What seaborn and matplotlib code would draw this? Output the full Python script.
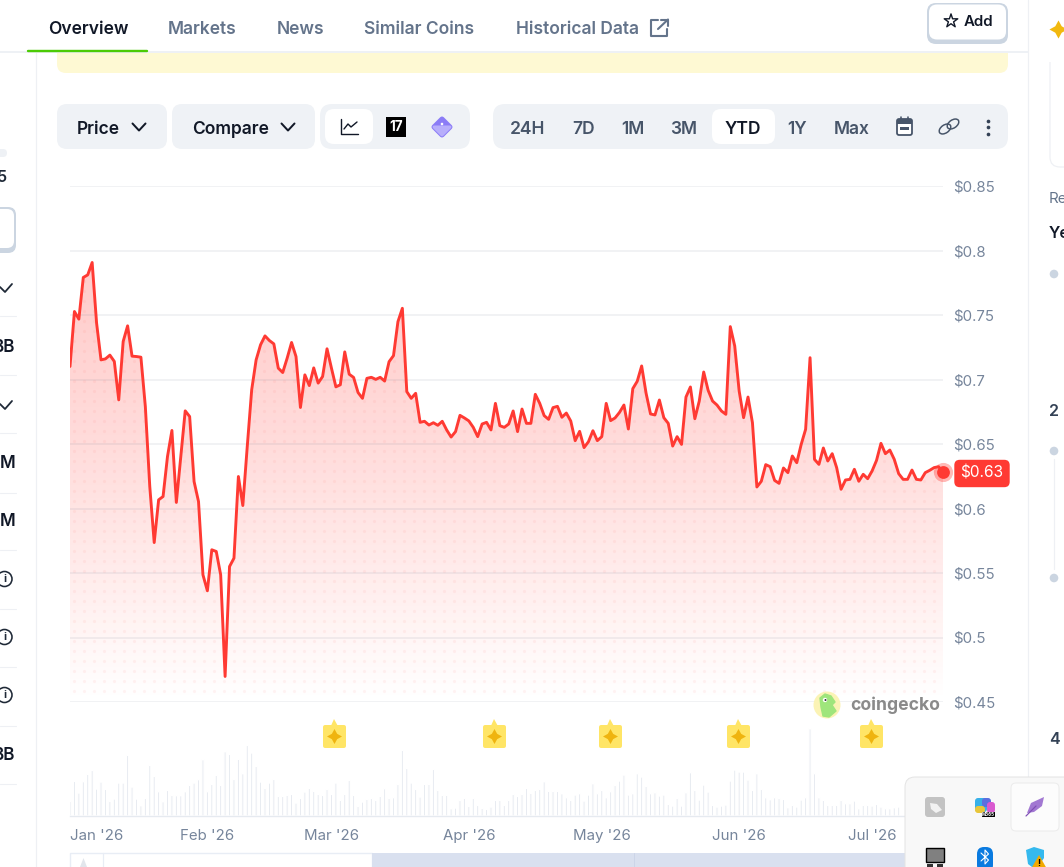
import matplotlib
matplotlib.use("Agg")
import matplotlib.pyplot as plt
import seaborn as sns
import numpy as np
from matplotlib.markers import MarkerStyle
from matplotlib.patches import FancyBboxPatch, Circle, Polygon, Ellipse

# price per day since 1 Jan 2026
price = [
    .7101, .7527, .7468, .7791, .7811, .7907, .7437, .7152, .7160, .7189, .7140, .6842, .7295, .7416, .7181, .7178,
    .7173, .6791, .6171, .5736, .6067, .6093, .6403, .6605, .6047, .6403, .6757, .6713, .6209, .6054, .5486, .5362,
    .5680, .5667, .5486, .4698, .5550, .5615, .6248, .6023, .6481, .6920, .7152, .7269, .7338, .7302, .7276, .7088,
    .7054, .7165, .7287, .7178, .6783, .7036, .6953, .7090, .6972, .7023, .7238, .7088, .6943, .6959, .7214, .7041,
    .7016, .6899, .6854, .7009, .7017, .7001, .7017, .6988, .7138, .7185, .7448, .7552, .6906, .6854, .6893, .6668,
    .6676, .6647, .6665, .6645, .6676, .6609, .6554, .6596, .6722, .6702, .6679, .6629, .6557, .6655, .6668, .6609,
    .6815, .6642, .6629, .6655, .6756, .6596, .6771, .6660, .6660, .6885, .6815, .6720, .6691, .6782, .6792, .6707,
    .6740, .6678, .6526, .6598, .6472, .6518, .6603, .6526, .6557, .6815, .6681, .6702, .6745, .6802, .6616, .6929,
    .6986, .7105, .6893, .6733, .6725, .6841, .6704, .6660, .6484, .6557, .6497, .6864, .6942, .6696, .6833, .7058,
    .6916, .6833, .6802, .6756, .6730, .7410, .7260, .6911, .6704, .6864, .6665, .6167, .6211, .6340, .6324, .6218,
    .6195, .6314, .6278, .6407, .6355, .6497, .6614, .7169, .6381, .6342, .6469, .6368, .6425, .6317, .6149, .6221,
    .6226, .6304, .6211, .6265, .6231, .6291, .6373, .6505, .6425, .6453, .6381, .6270, .6226, .6226, .6298, .6226,
    .6221, .6278, .6296, .6317, .6324, .6283,
]
# relative volume, the last days sit behind the tray popup
volume = [
    44, 104, 69, 103, 125, 137, 81, 102, 80, 44, 51, 99, 99, 182, 87, 51, 31, 53, 152, 119,
    73, 43, 77, 62, 61, 61, 73, 92, 99, 109, 169, 73, 95, 122, 92, 193, 185, 110, 170, 127,
    212, 189, 149, 102, 83, 99, 110, 59, 59, 62, 65, 39, 53, 72, 83, 74, 65, 62, 80, 65,
    99, 47, 65, 107, 62, 29, 42, 50, 53, 47, 59, 82, 53, 55, 95, 197, 143, 99, 80, 57,
    95, 95, 140, 77, 62, 62, 22, 24, 47, 53, 29, 53, 32, 23, 20, 27, 47, 47, 32, 47,
    65, 59, 65, 83, 68, 77, 80, 103, 74, 74, 74, 67, 55, 47, 63, 67, 45, 63, 97, 67,
    77, 55, 73, 92, 105, 123, 63, 67, 127, 117, 89, 67, 70, 60, 63, 35, 30, 53, 30, 70,
    130, 77, 48, 93, 72, 32, 27, 30, 33, 105, 138, 132, 132, 108, 77, 127, 80, 55, 49, 55,
    53, 50, 25, 32, 27, 48, 55, 262, 127, 55, 47, 32, 32, 32, 47, 37, 37, 45, 22, 32,
    32, 30, 35, 27, 22, 22, 25, 27,
]
month_days = [0, 31, 59, 90, 120, 151, 181]
month_labels = ["Jan '26", "Feb '26", "Mar '26", "Apr '26", "May '26", "Jun '26", "Jul '26"]
price_ticks = [.45, .5, .55, .6, .65, .7, .75, .8, .85]
price_labels = ['$0.45', '$0.5', '$0.55', '$0.6', '$0.65', '$0.7', '$0.75', '$0.8', '$0.85']
event_days = [59.5, 95.7, 121.8, 150.8, 180.8]
tabs = ['Overview', 'Markets', 'News', 'Similar Coins', 'Historical Data']
ranges = ['24H', '7D', '1M', '3M', 'YTD', '1Y', 'Max']

RED = '#ff3a33'
GRAY = '#76859b'
DARK = '#111827'
TAB_GRAY = '#64748b'
PANEL = '#eff2f6'
LINE = '#eef0f4'

sns.set_theme(style="white")
plt.rcParams['font.family'] = ['Inter', 'DejaVu Sans']

W, H = 1064, 867
fig = plt.figure(figsize=(W / 100, H / 100), dpi=100, facecolor='white')


def px_rect(x0, y0, x1, y1):
    return [x0 / W, (H - y1) / H, (x1 - x0) / W, (y1 - y0) / H]


def pt(px):
    return px * 0.72


# --- price chart ---
days = np.arange(len(price))
ax = fig.add_axes(px_rect(70, 186, 943, 702))
ax.set_facecolor('none')

poly = ax.fill_between(days, price, 0.45, facecolor='none', edgecolor='none')
clip = poly.get_paths()[0]

shade = np.zeros((256, 1, 4))
shade[..., 0], shade[..., 1], shade[..., 2] = 1.0, 0.16, 0.14
shade[:, 0, 3] = np.interp(np.linspace(0, 1, 256), [0, .2, .5, .75, 1], [.25, .23, .165, .09, 0])
im = ax.imshow(shade, extent=(0, 197, .45, .85), aspect='auto', zorder=1, interpolation='bilinear')
im.set_clip_path(clip, transform=ax.transData)

# faint dot texture of the area fill
dot_x, dot_y = np.meshgrid(np.arange(74, 943, 10), np.arange(691, 250, -10))
dots = ax.scatter((dot_x.ravel() - 70) / 873 * 197, .45 + (702 - dot_y.ravel()) / 1290, s=pt(3.2) ** 2,
                  color=RED, alpha=.06, linewidths=0, zorder=2)
dots.set_clip_path(clip, transform=ax.transData)

sns.lineplot(x=days, y=price, ax=ax, color=RED, linewidth=pt(2.9), errorbar=None, zorder=4)

ax.set_xlim(0, 197)
ax.set_ylim(.45, .85)
ax.set_xticks([])
ax.set_xlabel('')
ax.set_ylabel('')
ax.yaxis.tick_right()
ax.set_yticks(price_ticks, price_labels)
ax.tick_params(axis='y', length=0, pad=pt(10), labelsize=pt(15), labelcolor=GRAY)
ax.grid(axis='y', color='#64748b', alpha=.11, linewidth=pt(1.6), zorder=3)
ax.set_axisbelow(False)
sns.despine(ax=ax, left=True, bottom=True, right=True, top=True)

ax.scatter(days[-1:], price[-1:], s=190, color=RED, alpha=.35, linewidths=0, clip_on=False, zorder=5)
ax.scatter(days[-1:], price[-1:], s=85, color=RED, linewidths=0, clip_on=False, zorder=6)
ax.annotate('$0.63', (days[-1], price[-1]), xytext=(pt(39), pt(-1.5)), textcoords='offset points', ha='center',
            va='center', color='white', fontsize=pt(15.5), annotation_clip=False,
            bbox=dict(boxstyle='round,pad=0.4,rounding_size=0.35', fc=RED, ec='none'))

# --- volume strip ---
ax_vol = fig.add_axes(px_rect(70, 716, 943, 816))
ax_vol.set_facecolor('none')
sns.barplot(x=np.arange(len(volume)), y=volume, ax=ax_vol, native_scale=True, color='#e4e8ef', width=.5,
            saturation=1)
for bar in ax_vol.patches:
    bar.set_snap(False)
ax_vol.set_xlim(0, 197)
ax_vol.set_ylim(0, 300)
ax_vol.set_yticks([])
ax_vol.set_xlabel('')
ax_vol.set_ylabel('')
ax_vol.set_xticks(month_days, month_labels)
ax_vol.tick_params(axis='x', length=pt(11), width=pt(1.2), color='#e6eaf0', pad=pt(2), labelsize=pt(15),
                   labelcolor=GRAY)
ax_vol.get_xticklabels()[0].set_ha('left')
sns.despine(ax=ax_vol, left=True, right=True, top=True)
ax_vol.spines['bottom'].set_color('#e6eaf0')
ax_vol.spines['bottom'].set_linewidth(pt(1.4))

# event flags over the volume bars
flag_y = [240] * len(event_days)
ax_vol.plot(event_days, flag_y, ls='', marker=MarkerStyle('s', joinstyle='round'), ms=pt(19), mew=pt(4),
            color='#ffe566', clip_on=False, zorder=6)
ax_vol.plot(event_days, [278] * len(event_days), ls='', marker='^', ms=pt(9), mew=0, color='#ffe566',
            clip_on=False, zorder=5)
ax_vol.plot(event_days, flag_y, ls='', marker=(4, 1, 0), ms=pt(15), mew=0, color='#efb40f', clip_on=False,
            zorder=7)

# --- page around the chart, drawn in pixel coordinates ---
ui = fig.add_axes([0, 0, 1, 1], zorder=10)
ui.set_xlim(0, W)
ui.set_ylim(H, 0)
ui.axis('off')
ui.patch.set_alpha(0)


def box(x0, y0, x1, y1, r, fc, ec='none', lw=0, z=1):
    p = FancyBboxPatch((x0, y0), x1 - x0, y1 - y0, boxstyle=f'round,pad=0,rounding_size={r}', fc=fc, ec=ec,
                       lw=pt(lw), zorder=z)
    ui.add_patch(p)
    return p


def txt(x, y, s, size=16, color=DARK, ha='center', weight='normal', z=5):
    ui.text(x, y + 1, s, fontsize=pt(size), color=color, ha=ha, va='center', fontweight=weight, zorder=z)


def stroke(xs, ys, color=DARK, lw=2, z=5):
    ui.plot(xs, ys, color=color, lw=pt(lw), solid_capstyle='round', solid_joinstyle='round', zorder=z)


def chevron(x, y, color=DARK):
    stroke([x - 6.5, x, x + 6.5], [y - 3.5, y + 3.5, y - 3.5], color)


# frame lines
stroke([36, 36], [53, H], LINE, 1.2, 1)
stroke([1028, 1028], [0, H], LINE, 1.2, 1)

# yellow banner
box(57, 40, 1008, 73, 9, '#fef9d3', z=0)
ui.add_patch(plt.Rectangle((57, 30), 951, 22, fc='white', ec='none', zorder=0.5))
stroke([0, 1028], [52, 52], '#eef1f5', 2, 1)

# tabs
tab_x = [48, 168, 277, 364, 516]
for i, (x, s) in enumerate(zip(tab_x, tabs)):
    txt(x, 28.5, s, 17.4, DARK if i == 0 else TAB_GRAY, 'left', 'semibold')
stroke([28, 147], [50.5, 50.5], '#4ccb05', 2.4, 3)
stroke([658, 651, 651, 667, 667], [20, 20, 36, 36, 29], TAB_GRAY, 2.1)
stroke([658, 668], [29, 19.5], TAB_GRAY, 2.1)
stroke([661, 668, 668], [19.5, 19.5, 26], TAB_GRAY, 2.1)

# add button
box(927, 3, 1008, 44, 9, '#cbd5e1')
box(929, 4.5, 1006, 39.5, 8, 'white')
ui.scatter([951], [21], s=105, marker='*', facecolor='none', edgecolor=DARK, linewidths=1, zorder=5)
txt(964, 21, 'Add', 15, DARK, 'left', 'semibold')

# toolbar
box(57, 104, 167, 149, 10, PANEL)
txt(77, 128, 'Price', 17.4, DARK, 'left', 'semibold')
chevron(139, 127)
box(172, 104, 315, 149, 10, PANEL)
txt(192, 128, 'Compare', 17.4, DARK, 'left', 'semibold')
chevron(288, 127)
box(320, 104, 470, 149, 12, PANEL)
box(325, 109, 373, 144, 9, 'white')
stroke([341, 341, 358], [119, 134, 134], DARK, 1.4)
stroke([344, 348, 351, 357], [129, 124, 127, 122], DARK, 1.4)
ui.add_patch(plt.Rectangle((386, 117), 20, 20, fc='black', ec='none', zorder=4))
txt(396, 126, '17', 13.5, 'white', weight='bold')
ui.add_patch(Polygon([(442, 119), (450, 127), (442, 135), (434, 127)], closed=True, fc='#8b7cf6', ec='#8b7cf6',
                     lw=pt(5), joinstyle='round', zorder=4))
ui.add_patch(Polygon([(442, 127), (450, 127), (442, 135), (434, 127)], closed=True, fc='#b7aefb', ec='#b7aefb',
                     lw=pt(3), joinstyle='round', zorder=4))
ui.add_patch(Circle((442, 124), 1.3, fc='white', ec='none', zorder=5))

box(493, 104, 1008, 149, 12, PANEL)
box(712, 109, 775, 144, 9, 'white')
range_x = [528, 584, 633, 684, 743, 797, 852]
for s, x in zip(ranges, range_x):
    txt(x, 128, s, 17.4, DARK if s == 'YTD' else '#475569', weight='semibold')
box(897, 119, 912, 135, 2, 'white', '#475569', 1.8, 4)
ui.add_patch(plt.Rectangle((897, 119), 15, 5, fc='#475569', ec='none', zorder=5))
ui.add_patch(plt.Rectangle((900, 127), 9, 3, fc='#475569', ec='none', zorder=5))
stroke([901, 901], [116.5, 120], '#475569', 1.6)
stroke([908, 908], [116.5, 120], '#475569', 1.6)
for cx, cy in [(945, 129), (953, 124)]:
    ui.add_patch(Ellipse((cx, cy), 13, 8, angle=-35, fc='none', ec='#475569', lw=pt(1.5), zorder=5))
ui.scatter([988, 988, 988], [120.5, 127, 133.5], s=7, color='#334155', linewidths=0, zorder=5)

# left sidebar, cut by the screenshot
box(-20, 149, 7, 157, 4, '#eef1f5')
txt(7, 176, '5', 16, '#1f2937', 'right', 'semibold')
box(-30, 207, 16, 253, 8, '#cbd5e1')
box(-30, 209, 14, 248, 7, 'white')
for y in [316, 375, 433, 492.5, 550, 609, 667, 726, 784]:
    stroke([0, 16], [y, y], LINE, 1.1, 1)
for y in [288, 405]:
    stroke([0, 5, 12], [y - 1, y + 4, y - 4], '#1f2937', 1.8)
for y, s in [(346, 'BB'), (463, 'M'), (521, 'M'), (755, 'BB')]:
    txt(15, y, s, 17, DARK, 'right', 'semibold')
for y in [579, 637, 695]:
    ui.add_patch(Circle((4.5, y), 7.5, fc='white', ec='#1f2937', lw=pt(1.6), zorder=5))
    txt(4.5, y - .5, 'i', 11, '#1f2937', weight='bold', z=6)

# right sidebar, cut by the screenshot
box(1050, 40, 1100, 167, 10, 'white', '#eef0f4', 1.2, 1)
ui.add_patch(plt.Rectangle((1045, 30), 25, 32, fc='white', ec='none', zorder=2))
ui.scatter([1058], [29], s=170, marker=(4, 1, 0), color='#f2b90f', linewidths=0, zorder=5)
txt(1049, 198, 'Re', 15, TAB_GRAY, 'left')
txt(1049, 233, 'Ye', 16, DARK, 'left', 'semibold')
for y in [274, 451, 578]:
    ui.add_patch(Circle((1054, y), 4.3, fc='#cbd5e1', ec='none', zorder=5))
stroke([1054, 1054], [459, 569], LINE, 1.2, 1)
txt(1049, 410, '2', 16, '#334155', 'left', 'semibold')
txt(1049, 739, '4', 16, '#334155', 'left', 'semibold')

# navigator under the chart
ui.add_patch(plt.Rectangle((70, 853), 302, 20, fc='white', ec='#e8edf5', lw=pt(1.4), zorder=1))
ui.add_patch(plt.Rectangle((372, 853), 540, 20, fc='#d9e0ef', ec='none', zorder=1))
stroke([103, 103], [853, H], '#e8edf5', 1.2, 2)
stroke([633.5, 633.5], [853, H], '#ccd5e8', 1, 2)
ui.add_patch(Polygon([(80, H), (83.5, 858), (87, H)], closed=True, fc='#e2e6ec', ec='none', zorder=2))

# coingecko watermark
ui.add_patch(Circle((827, 705), 13.5, fc='#fbf3b5', ec='none', zorder=5))
ui.add_patch(Polygon([(820, 698), (825, 694), (831, 696), (835, 702), (832, 705), (836, 711), (829, 717), (823, 716),
                      (821, 707)], closed=True, fc='#9fe57c', ec='#9fe57c', lw=1, joinstyle='round', zorder=6))
ui.add_patch(Circle((825, 700), 2.2, fc='white', ec='none', zorder=7))
ui.add_patch(Circle((825.5, 700), 1, fc='#333333', ec='none', zorder=8))
txt(850, 704, 'coingecko', 17.5, '#8a8a8a', 'left', 'bold')

# windows tray popup
box(905, 777, 1100, 900, 10, '#f8f8f8', '#e4e4e4', 1, 20)
box(1011, 783, 1059, 831, 5, '#fcfcfc', '#ececec', 1, 21)
box(925, 797, 945, 817, 3, '#c3c3c3', z=22)
ui.add_patch(Polygon([(930, 803), (937, 804), (942, 810), (936, 813), (931, 809)], closed=True, fc='#f2f2f2',
                     ec='none', zorder=23))
for (x0, y0, x1, y1, c) in [(975, 798, 987, 812, '#37b0e8'), (982, 798, 991, 807, '#5b6fe0'),
                            (987, 802, 995, 813, '#d95ad0'), (975, 806, 985, 813, '#e8c63a')]:
    box(x0, y0, x1, y1, 3, c, z=22)
box(982, 812, 995, 817, .5, 'black', z=23)
txt(988.5, 813.7, 'M365', 4.5, 'white', weight='bold', z=24)
ui.add_patch(Polygon([(1027, 813), (1031, 803), (1044, 797), (1042, 806), (1034, 812)], closed=True, fc='#a278d2',
                     ec='none', zorder=22))
stroke([1026, 1036], [816, 806], '#7f4fb5', 1.2, 23)
ui.add_patch(plt.Rectangle((926, 848), 18, 14, fc='#808080', ec='black', lw=pt(1.4), zorder=22))
ui.add_patch(plt.Rectangle((927, 864), 6, 4, fc='#333333', ec='none', zorder=22))
ui.add_patch(plt.Rectangle((937, 864), 6, 4, fc='#333333', ec='none', zorder=22))
box(977, 847, 993, 872, 7, '#0a7be0', z=22)
stroke([981, 988.5, 985, 985, 988.5, 981], [853, 860, 864, 850, 854, 861], 'white', 1.1, 23)
ui.add_patch(Polygon([(1026, 850), (1034, 847), (1044, 850), (1044, 858), (1036, 870), (1028, 864)], closed=True,
                     fc='#35b9ee', ec='none', zorder=22))
ui.add_patch(Polygon([(1039, 855), (1047, 869), (1031, 869)], closed=True, fc='#f2a900', ec='none', zorder=23))
txt(1039, 862.5, '!', 9, 'black', weight='bold', z=24)

fig.savefig('out.png', dpi=100)
